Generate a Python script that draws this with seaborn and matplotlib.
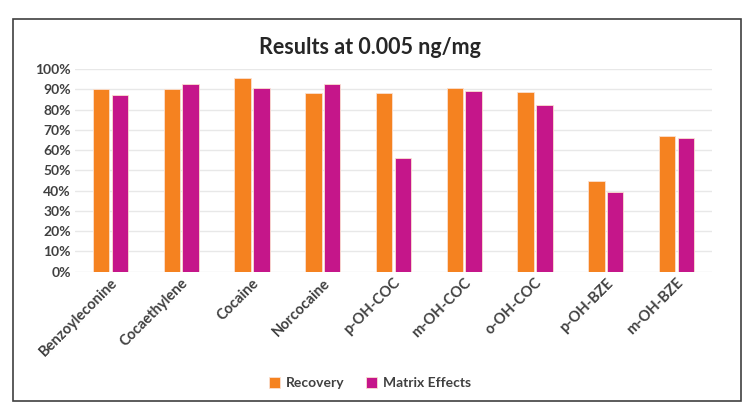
import matplotlib
matplotlib.use("Agg")
import matplotlib.pyplot as plt
import seaborn as sns
import pandas as pd
from matplotlib.patches import Rectangle
from matplotlib.ticker import PercentFormatter

categories = ["Benzoyleconine", "Cocaethylene", "Cocaine", "Norcocaine", "p-OH-COC",
              "m-OH-COC", "o-OH-COC", "p-OH-BZE", "m-OH-BZE"]
recovery = [90.2, 90.2, 95.5, 88.0, 88.0, 90.9, 88.6, 44.6, 66.8]
matrix_effects = [87.3, 92.9, 90.6, 92.9, 56.3, 89.0, 82.3, 39.3, 65.8]
series = ["Recovery", "Matrix Effects"]
colors = ["#F58220", "#C5168A"]

df = pd.DataFrame({
    "Compound": categories * 2,
    "Series": [series[0]] * len(categories) + [series[1]] * len(categories),
    "Value": [v / 100 for v in recovery] + [v / 100 for v in matrix_effects],
})

sns.set_theme(style="white")
plt.rcParams["font.family"] = ["Lato", "DejaVu Sans"]

fig = plt.figure(figsize=(7.43, 4.19), dpi=100)
ax = fig.add_axes([0.101, 0.3516, 0.857, 0.4834])

sns.barplot(data=df, x="Compound", y="Value", hue="Series", palette=colors,
            saturation=1, width=0.53, gap=0.12, edgecolor="#fbe0d0", linewidth=0.6,
            ax=ax, legend=True)

ax.set_ylim(0, 1.0)
ax.set_yticks([i / 10 for i in range(11)])
ax.yaxis.set_major_formatter(PercentFormatter(1.0, decimals=0))
ax.grid(axis="y", color="#e8e8e8", linewidth=1)
ax.set_axisbelow(True)
for s in ax.spines.values():
    s.set_visible(False)
ax.set_xlabel("")
ax.set_ylabel("")
ax.tick_params(axis="both", length=0, pad=3)
for lab in ax.get_yticklabels():
    lab.set_fontsize(10)
    lab.set_fontweight("bold")
    lab.set_color("#404040")
for lab in ax.get_xticklabels():
    lab.set_fontsize(10.5)
    lab.set_fontweight("bold")
    lab.set_color("#404040")
    lab.set_rotation(45)
    lab.set_ha("right")
    lab.set_rotation_mode("anchor")

ax.legend(loc="center", bbox_to_anchor=(370 / 743, 1 - 383 / 419),
          bbox_transform=fig.transFigure, ncol=2, frameon=False,
          handlelength=0.8, handleheight=0.8, handletextpad=0.4, columnspacing=1.6,
          prop={"weight": "bold", "size": 10}, labelcolor="#404040")

fig.text(370 / 743, 1 - 47 / 419, "Results at 0.005 ng/mg", ha="center", va="center",
         fontsize=15.5, fontweight="bold", color="#262626")

fig.patches.append(Rectangle((13 / 743, 1 - 401 / 419), 728 / 743, 382 / 419,
                             transform=fig.transFigure, fill=False,
                             edgecolor="#404040", linewidth=1.2))

fig.savefig("out.png", dpi=100)
